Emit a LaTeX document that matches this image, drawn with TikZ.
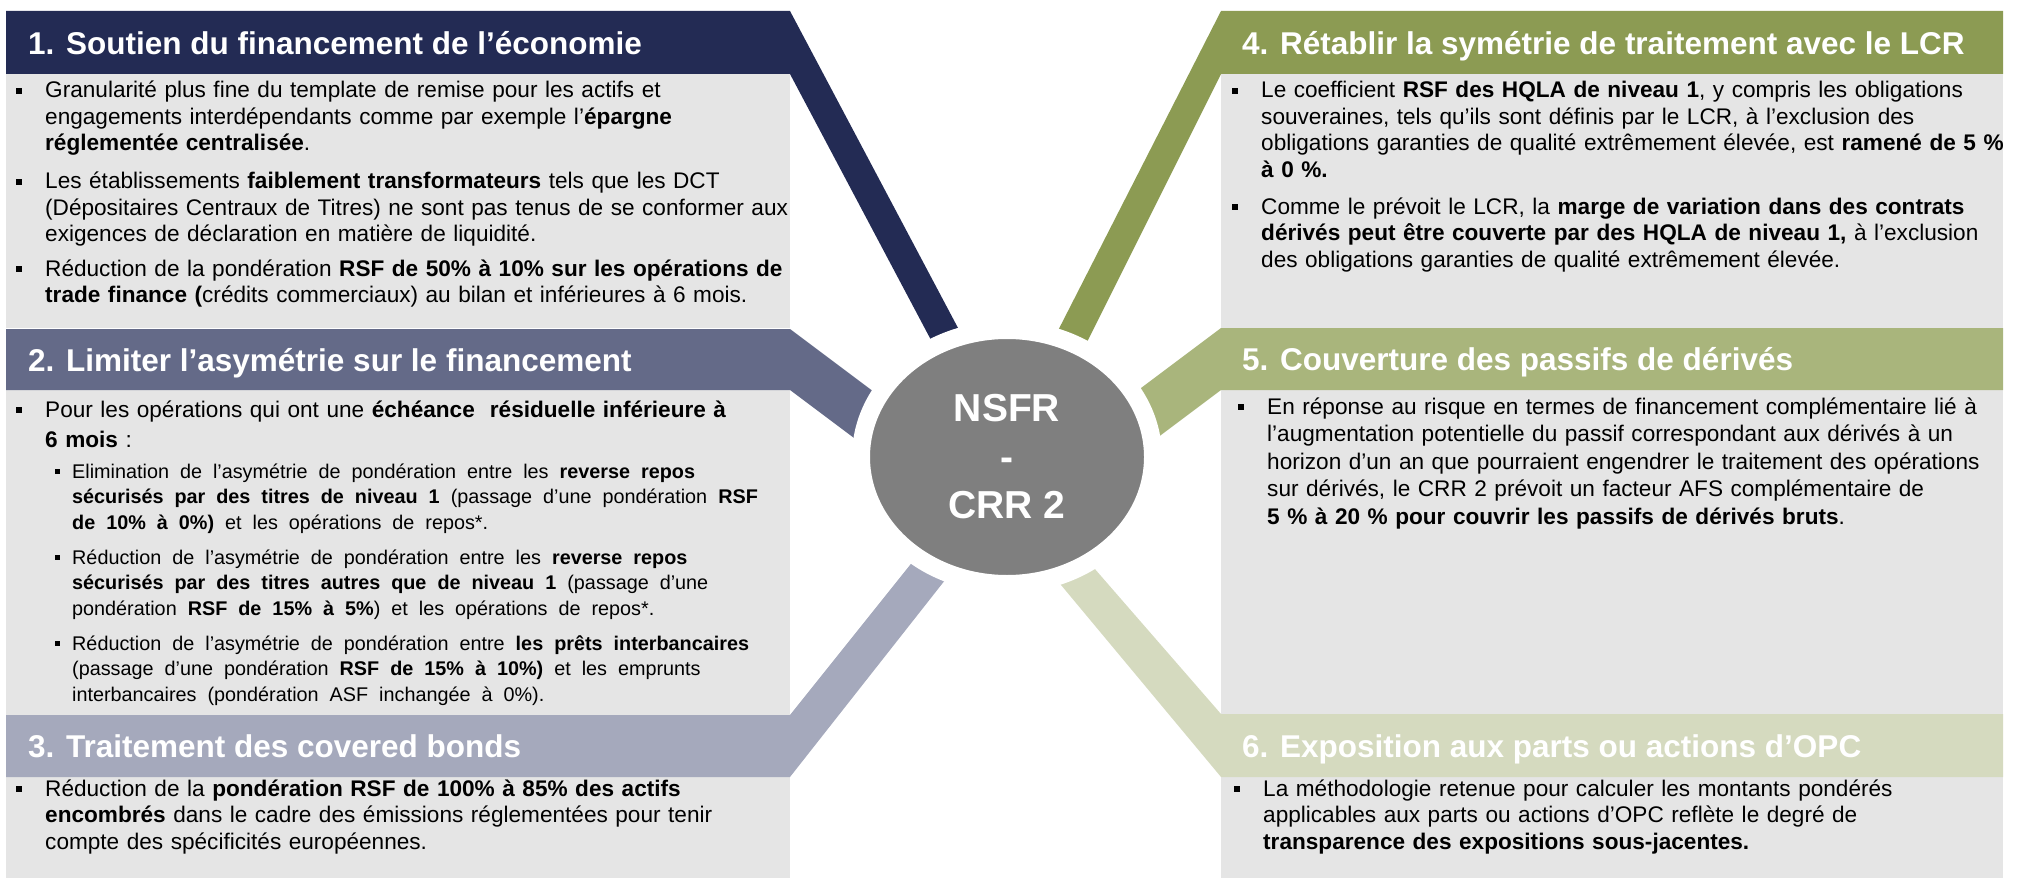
\documentclass[tikz,border=0pt]{standalone}
\usepackage{fontspec}
\setmainfont{Liberation Sans}
\usetikzlibrary{shapes.geometric}

\definecolor{navy}{HTML}{232B54}
\definecolor{slate}{HTML}{646A88}
\definecolor{lslate}{HTML}{A5A9BC}
\definecolor{olive}{HTML}{8C9B53}
\definecolor{lolive}{HTML}{A9B57C}
\definecolor{polive}{HTML}{D5DABF}
\definecolor{panelgray}{HTML}{E5E5E5}
\definecolor{hubgray}{HTML}{7F7F7F}

% square bullets hanging left of the text start
\newcommand\blt{\leavevmode\llap{\rule[4pt]{6pt}{6pt}\hspace{23pt}}}
\newcommand\sblt{\leavevmode\llap{\rule[4.5pt]{4.5pt}{4.5pt}\hspace{12.5pt}}}
\newcommand\widesp{\spaceskip=11pt\relax}

\tikzset{
  title/.style={anchor=base west, inner sep=0pt, text=white,
    font=\fontsize{31.5}{36}\selectfont\bfseries},
  item/.style={anchor=base west, inner sep=0pt, text width=800pt, align=left,
    font=\fontsize{22.6}{26.5}\selectfont},
  subitem/.style={anchor=base west, inner sep=0pt, text width=800pt, align=left,
    font=\fontsize{19.8}{25.5}\selectfont},
  panel/.style={fill=panelgray},
  hub/.style={ellipse, fill=hubgray, draw=white, line width=18pt,
    minimum width=292pt, minimum height=254pt, inner sep=0pt, text=white,
    align=center, font=\fontsize{39}{48.5}\selectfont\bfseries},
}

\begin{document}
\begin{tikzpicture}[x=1pt,y=-1pt]
\useasboundingbox (0,0) rectangle (2019,880);

% ---- panel bodies
\fill[panel] (6,74) rectangle (790,328);
\fill[panel] (6,390) rectangle (790,715);
\fill[panel] (6,777) rectangle (790,878);
\fill[panel] (1221,74) rectangle (2003,328);
\fill[panel] (1221,390) rectangle (2003,714);
\fill[panel] (1221,777) rectangle (2003,878);

% ---- header bars, each running on as a band towards the hub
\fill[navy]   (6,11) -- (790,11) -- (1006.8,420) -- (973.4,420) -- (790,74) -- (6,74) -- cycle;
\fill[slate]  (6,329) -- (790,329) -- (930,434) -- (930,495) -- (790,390) -- (6,390) -- cycle;
\fill[lslate] (6,715) -- (790,715) -- (975,483.75) -- (975,542) -- (790,777) -- (6,777) -- cycle;
\fill[olive]  (2003,11) -- (1221,11) -- (1012.4,420) -- (1048,420) -- (1221,74) -- (2003,74) -- cycle;
\fill[lolive] (2003,328) -- (1221,328) -- (1085,430) -- (1085,492) -- (1221,390) -- (2003,390) -- cycle;
\fill[polive] (2003,714) -- (1221,714) -- (1040,505.9) -- (1040,559.8) -- (1221,777) -- (2003,777) -- cycle;

% ---- central hub
\node[hub] (hub) at (1007,457) {NSFR\\-\\CRR 2};

% ---- titles
\node[title] (t1) at (28,54.5)   {1. Soutien du financement de l’économie};
\node[title] (t2) at (28,371)    {2. Limiter l’asymétrie sur le financement};
\node[title] (t3) at (28,757.5)  {3. Traitement des covered bonds};
\node[title] (t4) at (1242,54.5) {4. Rétablir la symétrie de traitement avec le LCR};
\node[title] (t5) at (1242,370.5){5. Couverture des passifs de dérivés};
\node[title] (t6) at (1242,757)  {6. Exposition aux parts ou actions d’OPC};

% ---- panel 1
\node[item] (p1a) at (45,98) {\blt Granularité plus fine du template de remise pour les actifs et\\
engagements interdépendants comme par exemple l’\textbf{épargne}\\
\textbf{réglementée centralisée}.};
\node[item] (p1b) at (45,189) {\blt Les établissements \textbf{faiblement transformateurs} tels que les DCT\\
(Dépositaires Centraux de Titres) ne sont pas tenus de se conformer aux\\
exigences de déclaration en matière de liquidité.};
\node[item] (p1c) at (45,276) {\blt Réduction de la pondération \textbf{RSF de 50\% à 10\% sur les opérations de}\\
\textbf{trade finance (}crédits commerciaux) au bilan et inférieures à 6 mois.};

% ---- panel 2
\node[item, font=\fontsize{22.6}{30}\selectfont] (p2a) at (45,417) {\blt Pour les opérations qui ont une \textbf{échéance \ résiduelle inférieure à}\\
\textbf{6 mois} :};
\node[subitem] (p2b) at (72,478) {\widesp\sblt Elimination de l’asymétrie de pondération entre les \textbf{reverse repos}\\
\textbf{sécurisés par des titres de niveau 1} (passage d’une pondération \textbf{RSF}\\
\textbf{de 10\% à 0\%)} et les opérations de repos*.};
\node[subitem] (p2c) at (72,564) {\widesp\sblt Réduction de l’asymétrie de pondération entre les \textbf{reverse repos}\\
\textbf{sécurisés par des titres autres que de niveau 1} (passage d’une\\
pondération \textbf{RSF de 15\% à 5\%}) et les opérations de repos*.};
\node[subitem] (p2d) at (72,650) {\widesp\sblt Réduction de l’asymétrie de pondération entre \textbf{les prêts interbancaires}\\
(passage d’une pondération \textbf{RSF de 15\% à 10\%)} et les emprunts\\
interbancaires (pondération ASF inchangée à 0\%).};

% ---- panel 3
\node[item] (p3a) at (45,796) {\blt Réduction de la \textbf{pondération RSF de 100\% à 85\% des actifs}\\
\textbf{encombrés} dans le cadre des émissions réglementées pour tenir\\
compte des spécificités européennes.};

% ---- panel 4
\node[item] (p4a) at (1261,98) {\blt Le coefficient \textbf{RSF des HQLA de niveau 1}, y compris les obligations\\
souveraines, tels qu’ils sont définis par le LCR, à l’exclusion des\\
obligations garanties de qualité extrêmement élevée, est \textbf{ramené de 5 \%}\\
\textbf{à 0 \%.}};
\node[item] (p4b) at (1261,214) {\blt Comme le prévoit le LCR, la \textbf{marge de variation dans des contrats}\\
\textbf{dérivés peut être couverte par des HQLA de niveau 1,} à l’exclusion\\
des obligations garanties de qualité extrêmement élevée.};

% ---- panel 5
\node[item, font=\fontsize{22.6}{27.5}\selectfont] (p5a) at (1267,414) {\blt En réponse au risque en termes de financement complémentaire lié à\\
l’augmentation potentielle du passif correspondant aux dérivés à un\\
horizon d’un an que pourraient engendrer le traitement des opérations\\
sur dérivés, le CRR 2 prévoit un facteur AFS complémentaire de\\
\textbf{5 \% à 20 \% pour couvrir les passifs de dérivés bruts}.};

% ---- panel 6
\node[item] (p6a) at (1263,796) {\blt La méthodologie retenue pour calculer les montants pondérés\\
applicables aux parts ou actions d’OPC reflète le degré de\\
\textbf{transparence des expositions sous-jacentes.}};

\end{tikzpicture}
\end{document}
